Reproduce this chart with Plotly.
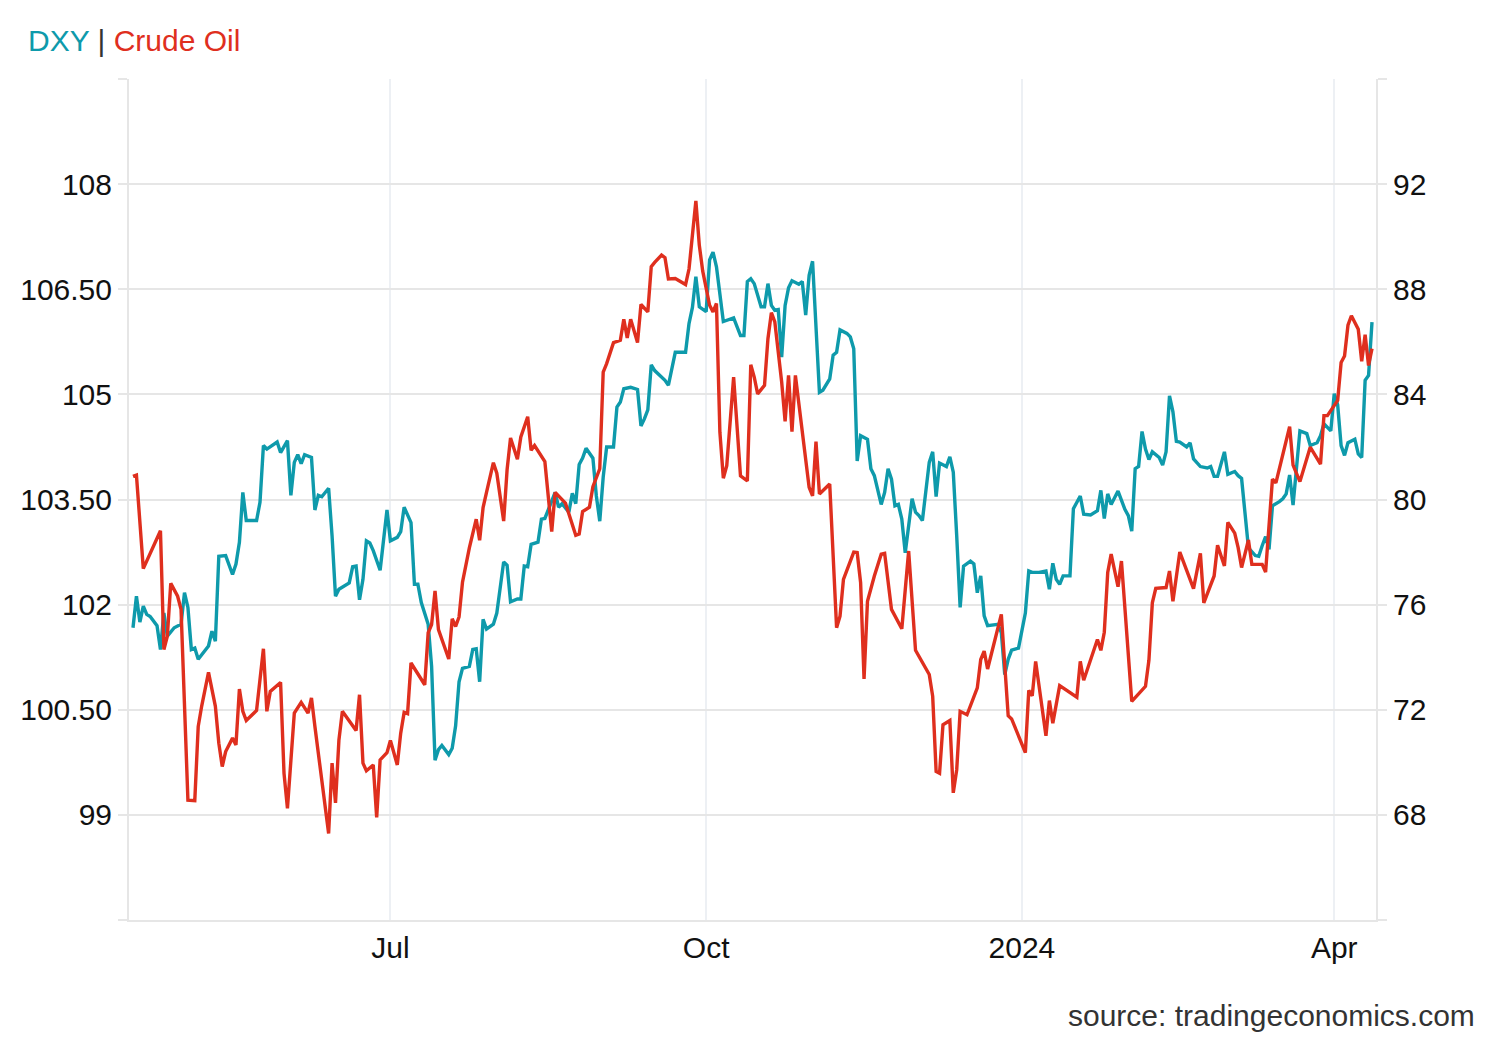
import plotly.graph_objects as go

# DXY (left axis) - dates and closing values
dxy_dates = [
    "2023-04-17", "2023-04-18", "2023-04-19", "2023-04-20", "2023-04-21", "2023-04-22", "2023-04-24",
    "2023-04-25", "2023-04-26", "2023-04-27", "2023-04-29", "2023-05-01", "2023-05-02", "2023-05-03",
    "2023-05-04", "2023-05-05", "2023-05-06", "2023-05-09", "2023-05-10", "2023-05-11", "2023-05-12",
    "2023-05-14", "2023-05-16", "2023-05-17", "2023-05-18", "2023-05-19", "2023-05-20", "2023-05-23",
    "2023-05-24", "2023-05-25", "2023-05-26", "2023-05-29", "2023-05-30", "2023-06-01", "2023-06-02",
    "2023-06-03", "2023-06-04", "2023-06-05", "2023-06-06", "2023-06-08", "2023-06-09", "2023-06-10",
    "2023-06-11", "2023-06-13", "2023-06-14", "2023-06-15", "2023-06-16", "2023-06-19", "2023-06-20",
    "2023-06-21", "2023-06-22", "2023-06-23", "2023-06-24", "2023-06-25", "2023-06-26", "2023-06-28",
    "2023-06-30", "2023-07-01", "2023-07-03", "2023-07-04", "2023-07-05", "2023-07-07", "2023-07-08",
    "2023-07-09", "2023-07-10", "2023-07-12", "2023-07-13", "2023-07-14", "2023-07-15", "2023-07-16",
    "2023-07-18", "2023-07-19", "2023-07-20", "2023-07-21", "2023-07-22", "2023-07-24", "2023-07-25",
    "2023-07-26", "2023-07-27", "2023-07-28", "2023-07-29", "2023-07-31", "2023-08-01", "2023-08-02",
    "2023-08-03", "2023-08-04", "2023-08-05", "2023-08-07", "2023-08-08", "2023-08-09", "2023-08-10",
    "2023-08-11", "2023-08-13", "2023-08-14", "2023-08-15", "2023-08-18", "2023-08-19", "2023-08-20",
    "2023-08-22", "2023-08-23", "2023-08-24", "2023-08-25", "2023-08-26", "2023-08-27", "2023-08-29",
    "2023-08-30", "2023-08-31", "2023-09-01", "2023-09-02", "2023-09-04", "2023-09-05", "2023-09-06",
    "2023-09-07", "2023-09-09", "2023-09-11", "2023-09-12", "2023-09-13", "2023-09-14", "2023-09-15",
    "2023-09-16", "2023-09-17", "2023-09-19", "2023-09-20", "2023-09-22", "2023-09-25", "2023-09-26",
    "2023-09-27", "2023-09-28", "2023-09-29", "2023-09-30", "2023-10-01", "2023-10-02", "2023-10-03",
    "2023-10-04", "2023-10-05", "2023-10-06", "2023-10-09", "2023-10-11", "2023-10-12", "2023-10-13",
    "2023-10-14", "2023-10-15", "2023-10-17", "2023-10-18", "2023-10-19", "2023-10-20", "2023-10-21",
    "2023-10-22", "2023-10-23", "2023-10-24", "2023-10-25", "2023-10-26", "2023-10-28", "2023-10-29",
    "2023-10-30", "2023-10-31", "2023-11-01", "2023-11-03", "2023-11-04", "2023-11-06", "2023-11-07",
    "2023-11-08", "2023-11-09", "2023-11-11", "2023-11-12", "2023-11-13", "2023-11-14", "2023-11-15",
    "2023-11-17", "2023-11-18", "2023-11-19", "2023-11-21", "2023-11-22", "2023-11-23", "2023-11-24",
    "2023-11-25", "2023-11-26", "2023-11-27", "2023-11-28", "2023-11-29", "2023-11-30", "2023-12-01",
    "2023-12-02", "2023-12-03", "2023-12-05", "2023-12-06", "2023-12-07", "2023-12-08", "2023-12-10",
    "2023-12-11", "2023-12-12", "2023-12-13", "2023-12-14", "2023-12-15", "2023-12-17", "2023-12-18",
    "2023-12-19", "2023-12-20", "2023-12-21", "2023-12-22", "2023-12-25", "2023-12-26", "2023-12-27",
    "2023-12-28", "2023-12-29", "2023-12-31", "2024-01-02", "2024-01-03", "2024-01-04", "2024-01-06",
    "2024-01-08", "2024-01-09", "2024-01-10", "2024-01-11", "2024-01-12", "2024-01-13", "2024-01-15",
    "2024-01-16", "2024-01-18", "2024-01-19", "2024-01-21", "2024-01-23", "2024-01-24", "2024-01-25",
    "2024-01-26", "2024-01-27", "2024-01-29", "2024-01-31", "2024-02-01", "2024-02-02", "2024-02-03",
    "2024-02-04", "2024-02-05", "2024-02-06", "2024-02-07", "2024-02-08", "2024-02-10", "2024-02-11",
    "2024-02-12", "2024-02-13", "2024-02-14", "2024-02-15", "2024-02-16", "2024-02-18", "2024-02-19",
    "2024-02-20", "2024-02-22", "2024-02-24", "2024-02-25", "2024-02-26", "2024-02-27", "2024-02-29",
    "2024-03-01", "2024-03-03", "2024-03-04", "2024-03-05", "2024-03-06", "2024-03-07", "2024-03-09",
    "2024-03-10", "2024-03-11", "2024-03-12", "2024-03-13", "2024-03-14", "2024-03-16", "2024-03-17",
    "2024-03-18", "2024-03-19", "2024-03-20", "2024-03-22", "2024-03-24", "2024-03-25", "2024-03-27",
    "2024-03-28", "2024-03-29", "2024-03-31", "2024-04-01", "2024-04-02", "2024-04-03", "2024-04-04",
    "2024-04-05", "2024-04-07", "2024-04-08", "2024-04-09", "2024-04-10", "2024-04-11", "2024-04-12",
]
dxy_values = [
    101.67, 102.12, 101.75, 101.98, 101.86, 101.83, 101.70,
    101.36, 101.88, 101.55, 101.67, 101.72, 102.17, 101.96,
    101.36, 101.38, 101.22, 101.41, 101.62, 101.48, 102.69,
    102.70, 102.43, 102.58, 102.89, 103.60, 103.20, 103.20,
    103.46, 104.27, 104.22, 104.32, 104.17, 104.34, 103.56,
    104.03, 104.14, 104.01, 104.14, 104.10, 103.35, 103.56,
    103.54, 103.66, 102.98, 102.12, 102.22, 102.31, 102.54,
    102.55, 102.07, 102.36, 102.91, 102.88, 102.77, 102.49,
    103.35, 102.91, 102.96, 103.04, 103.39, 103.17, 102.29,
    102.29, 102.03, 101.72, 101.12, 99.78, 99.93, 99.99,
    99.86, 99.95, 100.27, 100.90, 101.09, 101.12, 101.36,
    101.37, 100.90, 101.79, 101.65, 101.72, 101.88, 102.29,
    102.61, 102.56, 102.04, 102.08, 102.08, 102.55, 102.54,
    102.86, 102.89, 103.22, 103.23, 103.60, 103.39, 103.44,
    103.32, 103.59, 103.44, 104.00, 104.09, 104.23, 104.09,
    103.55, 103.19, 103.82, 104.25, 104.25, 104.82, 104.89,
    105.08, 105.10, 105.07, 104.55, 104.65, 104.78, 105.42,
    105.34, 105.29, 105.20, 105.13, 105.60, 105.60, 106.01,
    106.24, 106.68, 106.25, 106.22, 106.18, 106.92, 107.03,
    106.82, 106.42, 106.04, 106.09, 105.84, 105.84, 106.61,
    106.65, 106.58, 106.25, 106.25, 106.58, 106.27, 106.20,
    106.21, 105.53, 106.27, 106.52, 106.62, 106.57, 106.61,
    106.13, 106.70, 106.90, 105.03, 105.06, 105.22, 105.56,
    105.60, 105.92, 105.87, 105.82, 105.65, 104.05, 104.41,
    104.36, 103.94, 103.84, 103.43, 103.60, 103.94, 103.79,
    103.41, 103.43, 103.22, 102.74, 103.12, 103.51, 103.32,
    103.27, 103.20, 104.03, 104.18, 103.54, 104.02, 103.97,
    104.11, 103.89, 102.98, 101.96, 102.55, 102.62, 102.58,
    102.17, 102.41, 101.84, 101.70, 101.72, 101.60, 101.00,
    101.22, 101.35, 101.38, 101.88, 102.48, 102.46, 102.46,
    102.48, 102.22, 102.59, 102.36, 102.29, 102.41, 102.41,
    103.37, 103.55, 103.29, 103.28, 103.34, 103.63, 103.23,
    103.58, 103.43, 103.62, 103.36, 103.27, 103.05, 103.94,
    103.97, 104.47, 104.22, 104.07, 104.18, 104.10, 103.99,
    104.18, 104.98, 104.75, 104.33, 104.32, 104.25, 104.31,
    104.08, 103.97, 103.95, 103.97, 103.83, 103.83, 104.18,
    103.86, 103.90, 103.84, 103.80, 103.32, 102.81, 102.70,
    102.69, 102.84, 102.97, 102.79, 103.41, 103.47, 103.51,
    103.58, 103.85, 103.42, 104.48, 104.44, 104.27, 104.31,
    104.41, 104.58, 104.48, 105.01, 104.85, 104.27, 104.13,
    104.31, 104.36, 104.15, 104.10, 105.20, 105.27, 106.03,
]

# Crude oil (right axis)
oil_dates = [
    "2023-04-17", "2023-04-18", "2023-04-20", "2023-04-22", "2023-04-25", "2023-04-26", "2023-04-27",
    "2023-04-28", "2023-04-30", "2023-05-01", "2023-05-03", "2023-05-05", "2023-05-06", "2023-05-07",
    "2023-05-09", "2023-05-11", "2023-05-12", "2023-05-13", "2023-05-14", "2023-05-16", "2023-05-17",
    "2023-05-18", "2023-05-19", "2023-05-20", "2023-05-23", "2023-05-25", "2023-05-26", "2023-05-27",
    "2023-05-30", "2023-05-31", "2023-06-01", "2023-06-03", "2023-06-05", "2023-06-07", "2023-06-08",
    "2023-06-09", "2023-06-11", "2023-06-13", "2023-06-14", "2023-06-15", "2023-06-16", "2023-06-17",
    "2023-06-21", "2023-06-22", "2023-06-23", "2023-06-24", "2023-06-26", "2023-06-27", "2023-06-28",
    "2023-06-30", "2023-07-01", "2023-07-03", "2023-07-04", "2023-07-05", "2023-07-06", "2023-07-07",
    "2023-07-11", "2023-07-12", "2023-07-13", "2023-07-14", "2023-07-15", "2023-07-18", "2023-07-19",
    "2023-07-20", "2023-07-21", "2023-07-22", "2023-07-24", "2023-07-26", "2023-07-27", "2023-07-28",
    "2023-07-29", "2023-07-31", "2023-08-01", "2023-08-03", "2023-08-04", "2023-08-05", "2023-08-07",
    "2023-08-08", "2023-08-10", "2023-08-11", "2023-08-12", "2023-08-15", "2023-08-17", "2023-08-18",
    "2023-08-21", "2023-08-24", "2023-08-25", "2023-08-26", "2023-08-28", "2023-08-29", "2023-08-31",
    "2023-09-01", "2023-09-02", "2023-09-04", "2023-09-06", "2023-09-07", "2023-09-08", "2023-09-09",
    "2023-09-11", "2023-09-12", "2023-09-14", "2023-09-15", "2023-09-16", "2023-09-18", "2023-09-19",
    "2023-09-20", "2023-09-22", "2023-09-25", "2023-09-26", "2023-09-28", "2023-09-29", "2023-09-30",
    "2023-10-02", "2023-10-03", "2023-10-04", "2023-10-05", "2023-10-06", "2023-10-07", "2023-10-09",
    "2023-10-11", "2023-10-13", "2023-10-14", "2023-10-15", "2023-10-16", "2023-10-18", "2023-10-19",
    "2023-10-20", "2023-10-21", "2023-10-23", "2023-10-24", "2023-10-25", "2023-10-26", "2023-10-27",
    "2023-10-29", "2023-10-31", "2023-11-01", "2023-11-02", "2023-11-03", "2023-11-06", "2023-11-08",
    "2023-11-09", "2023-11-10", "2023-11-13", "2023-11-14", "2023-11-15", "2023-11-16", "2023-11-17",
    "2023-11-19", "2023-11-21", "2023-11-22", "2023-11-24", "2023-11-27", "2023-11-29", "2023-12-01",
    "2023-12-03", "2023-12-05", "2023-12-06", "2023-12-07", "2023-12-08", "2023-12-09", "2023-12-11",
    "2023-12-12", "2023-12-13", "2023-12-14", "2023-12-16", "2023-12-19", "2023-12-20", "2023-12-21",
    "2023-12-22", "2023-12-26", "2023-12-28", "2023-12-29", "2024-01-02", "2024-01-03", "2024-01-04",
    "2024-01-05", "2024-01-08", "2024-01-09", "2024-01-10", "2024-01-12", "2024-01-17", "2024-01-18",
    "2024-01-19", "2024-01-23", "2024-01-24", "2024-01-25", "2024-01-26", "2024-01-27", "2024-01-29",
    "2024-01-30", "2024-02-02", "2024-02-06", "2024-02-07", "2024-02-08", "2024-02-09", "2024-02-12",
    "2024-02-13", "2024-02-14", "2024-02-16", "2024-02-20", "2024-02-22", "2024-02-23", "2024-02-26",
    "2024-02-27", "2024-02-29", "2024-03-01", "2024-03-03", "2024-03-04", "2024-03-05", "2024-03-07",
    "2024-03-08", "2024-03-11", "2024-03-12", "2024-03-14", "2024-03-15", "2024-03-19", "2024-03-20",
    "2024-03-22", "2024-03-25", "2024-03-28", "2024-03-29", "2024-03-30", "2024-04-02", "2024-04-03",
    "2024-04-04", "2024-04-05", "2024-04-06", "2024-04-08", "2024-04-09", "2024-04-10", "2024-04-11",
    "2024-04-12",
]
oil_values = [
    80.88, 80.93, 77.37, 77.92, 78.81, 74.29, 74.80,
    76.81, 76.32, 75.82, 68.56, 68.54, 71.36, 72.13,
    73.42, 72.13, 70.73, 69.84, 70.41, 70.92, 70.66,
    72.79, 71.94, 71.59, 71.97, 74.32, 71.94, 72.70,
    73.04, 69.58, 68.25, 71.87, 72.28, 71.87, 72.45,
    71.36, 69.33, 67.29, 69.97, 68.46, 70.85, 71.94,
    71.21, 72.57, 69.97, 69.68, 69.90, 67.90, 70.09,
    70.37, 70.83, 69.90, 71.11, 71.90, 71.85, 73.78,
    72.95, 74.93, 75.24, 76.52, 75.05, 73.93, 75.46,
    75.17, 75.53, 76.85, 78.16, 79.25, 78.45, 79.69,
    80.27, 81.40, 81.00, 79.18, 81.14, 82.34, 81.53,
    82.38, 83.15, 81.87, 82.05, 81.44, 78.78, 80.27,
    79.86, 78.64, 78.69, 79.54, 79.71, 80.49, 81.17,
    84.85, 85.17, 85.97, 86.06, 86.86, 86.15, 86.86,
    85.97, 87.42, 87.14, 88.86, 89.02, 89.30, 89.20,
    88.39, 88.41, 88.18, 88.77, 91.36, 89.68, 88.69,
    87.39, 87.14, 87.46, 82.56, 80.81, 81.29, 84.66,
    80.90, 80.71, 85.13, 84.66, 84.02, 84.34, 86.12,
    87.11, 86.76, 84.47, 82.97, 84.72, 82.58, 84.72,
    82.56, 80.46, 80.14, 82.20, 80.21, 80.59, 75.12,
    75.56, 76.96, 78.00, 77.98, 76.84, 73.17, 76.13,
    77.09, 77.92, 77.95, 75.82, 75.08, 78.04, 74.26,
    73.78, 73.34, 72.51, 69.65, 69.58, 71.43, 71.59,
    68.84, 69.71, 71.94, 71.81, 72.83, 73.91, 74.23,
    73.55, 75.63, 71.77, 71.65, 70.37, 72.74, 72.53,
    73.84, 71.01, 72.35, 71.49, 72.92, 72.48, 73.84,
    73.12, 74.67, 74.26, 74.95, 77.22, 77.92, 76.68,
    77.66, 72.32, 72.89, 73.88, 76.07, 76.62, 76.65,
    77.28, 76.13, 78.00, 76.61, 77.95, 76.07, 77.09,
    78.26, 77.47, 79.13, 78.72, 78.17, 77.41, 78.46,
    77.53, 77.53, 77.24, 80.78, 80.63, 82.77, 81.31,
    80.68, 81.99, 81.35, 83.19, 83.19, 83.77, 85.21,
    85.46, 86.63, 86.99, 86.48, 85.26, 86.27, 85.10,
    85.74,
]

# Axis ticks
left_tickvals = [97.5, 99, 100.5, 102, 103.5, 105, 106.5, 108, 109.5]
left_ticktext = ["", "99", "100.50", "102", "103.50", "105", "106.50", "108", ""]
right_tickvals = [64, 68, 72, 76, 80, 84, 88, 92, 96]
right_ticktext = ["", "68", "72", "76", "80", "84", "88", "92", ""]
x_tickvals = ["2023-07-01", "2023-10-01", "2024-01-01", "2024-04-01"]
x_ticktext = ["Jul", "Oct", "2024", "Apr"]

TEAL = "#0e9aab"
RED = "#df2f1e"
GRID = "#e6e6e6"
FONT = "Liberation Sans, Arial, sans-serif"

# the page puts the figure 8px in from the top-left corner
W, H = 1492, 1032

fig = go.Figure()
fig.add_trace(go.Scatter(x=dxy_dates, y=dxy_values, name="DXY", mode="lines",
                         line=dict(color=TEAL, width=3.4)))
fig.add_trace(go.Scatter(x=oil_dates, y=oil_values, name="Crude Oil", mode="lines",
                         line=dict(color=RED, width=3.4), yaxis="y2"))

fig.update_layout(
    width=W, height=H,
    margin=dict(l=111, r=124, t=71, b=120),
    paper_bgcolor="white", plot_bgcolor="white",
    showlegend=False,
    font=dict(family=FONT, size=30, color="#111111"),
    title=dict(
        text=f"<span style='color:{TEAL}'>DXY</span> <span style='color:#333333'>|</span> "
             f"<span style='color:{RED}'>Crude Oil</span>",
        x=20 / W, xanchor="left", y=1 - 32 / H, yanchor="middle",
        font=dict(family=FONT, size=30),
    ),
    xaxis=dict(
        type="date",
        range=["2023-04-15 20:00", "2024-04-13 04:00"],
        tickvals=x_tickvals, ticktext=x_ticktext,
        showgrid=True, gridcolor="#edf0f4", gridwidth=1.5,
        showline=True, linecolor=GRID, linewidth=2,
        ticks="", zeroline=False,
        tickfont=dict(size=30, color="#111111"),
    ),
    yaxis=dict(
        range=[97.5, 109.5],
        tickvals=left_tickvals, ticktext=left_ticktext,
        showgrid=True, gridcolor=GRID, gridwidth=1.5,
        showline=True, linecolor=GRID, linewidth=2,
        ticks="outside", ticklen=9, tickcolor=GRID, tickwidth=1.5,
        zeroline=False,
        tickfont=dict(size=30, color="#111111"),
    ),
    yaxis2=dict(
        range=[64, 96], overlaying="y", side="right",
        tickvals=right_tickvals, ticktext=right_ticktext,
        showgrid=False,
        showline=True, linecolor=GRID, linewidth=2,
        ticks="outside", ticklen=9, tickcolor=GRID, tickwidth=1.5,
        zeroline=False,
        tickfont=dict(size=30, color="#111111"),
    ),
)

fig.add_annotation(
    text="source: tradingeconomics.com",
    xref="paper", yref="paper", x=1.0 + (1478 - 1376) / 1257, y=(920 - 1016) / 841,
    xanchor="right", yanchor="middle", showarrow=False,
    font=dict(family=FONT, size=30, color="#333333"),
)

fig.write_html("out.html")
